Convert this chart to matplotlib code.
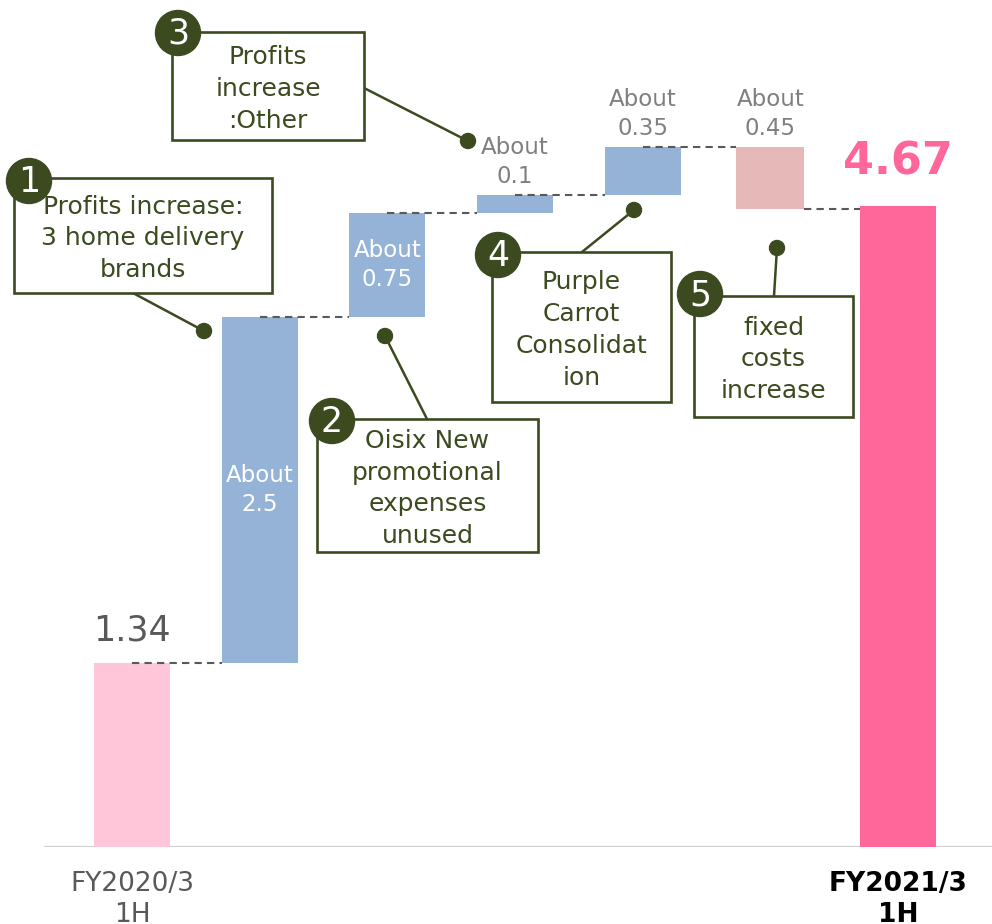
import matplotlib.pyplot as plt
from matplotlib.patches import Rectangle, Circle

# ---------------- DATA ----------------
categories = ["FY2020/3\n1H", "", "", "", "", "", "FY2021/3\n1H"]
start_value = 1.34
deltas = [2.52, 0.76, 0.13, 0.35, -0.45]
end_value = 4.67
delta_labels = ["About\n2.5", "About\n0.75", "About\n0.1", "About\n0.35", "About\n0.45"]
label_inside = [True, True, False, False, False]

callout_texts = [
    "Profits increase:\n3 home delivery\nbrands",
    "Oisix New\npromotional\nexpenses\nunused",
    "Profits\nincrease\n:Other",
    "Purple\nCarrot\nConsolidat\nion",
    "fixed\ncosts\nincrease",
]

# ---------------- STYLE ----------------
C_START = "#FFC6DA"
C_UP = "#95B3D7"
C_DOWN = "#E6B8B7"
C_END = "#FF6699"
OLIVE = "#3B4A1F"
plt.rcParams["font.family"] = ["DejaVu Sans"]

W, H = 992, 924
fig = plt.figure(figsize=(W / 100, H / 100), dpi=100)
ax = fig.add_axes([0, 77 / H, 1, 847 / H])
ax.set_ylim(0, 847 / 137.3)
ax.set_xlim(-132 / 127.67, 860 / 127.67)
for s in ax.spines.values():
    s.set_visible(False)
ax.set_yticks([])

# ---------------- BARS ----------------
n = len(categories)
xs = list(range(n))
width = 0.595
neg_width = 0.533

ax.bar(xs[0], start_value, width=width, color=C_START, zorder=2)
levels = [start_value]
level = start_value
for i, d in enumerate(deltas):
    x = xs[i + 1]
    color = C_UP if d >= 0 else C_DOWN
    w = width if d >= 0 else neg_width
    ax.bar(x, abs(d), bottom=min(level, level + d), width=w, color=color, zorder=2)
    level += d
    levels.append(level)
ax.bar(xs[-1], end_value, width=width, color=C_END, zorder=2)

# dashed connectors: from bar centre to next bar's left edge
for i in range(n - 1):
    x0 = xs[i] if i != 5 else xs[i] + neg_width / 2
    x1 = xs[i + 1] - (neg_width if i + 1 == 5 else width) / 2
    ax.plot([x0, x1], [levels[i], levels[i]],
            ls=(0, (3.5, 2.5)), color="#595959", lw=1.5, zorder=3)

# value labels
ax.annotate(f"{start_value:.2f}", (xs[0], start_value), xytext=(0, 11),
            textcoords="offset points", ha="center", va="bottom",
            fontsize=25, color="#595959")
ax.annotate(f"{end_value:.2f}", (xs[-1], end_value), xytext=(0, 16),
            textcoords="offset points", ha="center", va="bottom",
            fontsize=32, color=C_END, fontweight="bold")
prev = start_value
for i, d in enumerate(deltas):
    x = xs[i + 1]
    top = max(prev, prev + d)
    if label_inside[i]:
        ax.text(x, prev + d / 2, delta_labels[i], ha="center", va="center",
                fontsize=16.5, color="white", linespacing=1.33, zorder=4)
    else:
        ax.annotate(delta_labels[i], (x, top), xytext=(0, 5),
                    textcoords="offset points", ha="center", va="bottom",
                    fontsize=16.5, color="#808080", linespacing=1.33)
    prev += d

# axis line
ax.axhline(0, xmin=45 / W, xmax=1, color="#D0D0D0", lw=1.6, zorder=1)

ax.set_xticks([xs[0], xs[-1]])
ax.set_xticklabels([categories[0], categories[-1]], fontsize=19, linespacing=1.28)
ax.tick_params(axis="x", length=0, pad=17)
tl = ax.get_xticklabels()
tl[0].set_color("#595959")
tl[1].set_color("black")
tl[1].set_fontweight("bold")

# ---------------- CALLOUTS (pixel layout overlay) ----------------
ov = fig.add_axes([0, 0, 1, 1], facecolor="none")
ov.set_xlim(0, W)
ov.set_ylim(H, 0)
ov.axis("off")

boxes = [(14, 178, 272, 293), (317, 419, 538, 552), (172, 32, 364, 140),
         (492, 252, 671, 402), (694, 296, 853, 417)]
line_start = [(133, 293), (427, 419), (364, 88), (582, 252), (774, 296)]
dots = [(204, 331), (385, 336), (468, 141), (634, 210), (777, 248)]
badges = [(29, 181), (332, 421), (178, 33), (498, 255), (700, 294)]

for k in range(5):
    x0, y0, x1, y1 = boxes[k]
    ov.add_patch(Rectangle((x0, y0), x1 - x0, y1 - y0, fill=True, fc="white",
                           ec=OLIVE, lw=1.9, zorder=5))
    (lx, ly), (dx, dy) = line_start[k], dots[k]
    ov.plot([lx, dx], [ly, dy], color=OLIVE, lw=1.8, zorder=4)
    ov.add_patch(Circle((dx, dy), 7.5, color=OLIVE, zorder=6))
    ov.text((x0 + x1) / 2, (y0 + y1) / 2 + 3, callout_texts[k], ha="center",
            va="center", fontsize=18, color=OLIVE, linespacing=1.42, zorder=7)
    bx, by = badges[k]
    ov.add_patch(Circle((bx, by), 22.5, color=OLIVE, zorder=8))
    ov.text(bx, by + 1, str(k + 1), ha="center", va="center",
            fontsize=25, color="white", zorder=9)

fig.savefig("out.png", dpi=100)
